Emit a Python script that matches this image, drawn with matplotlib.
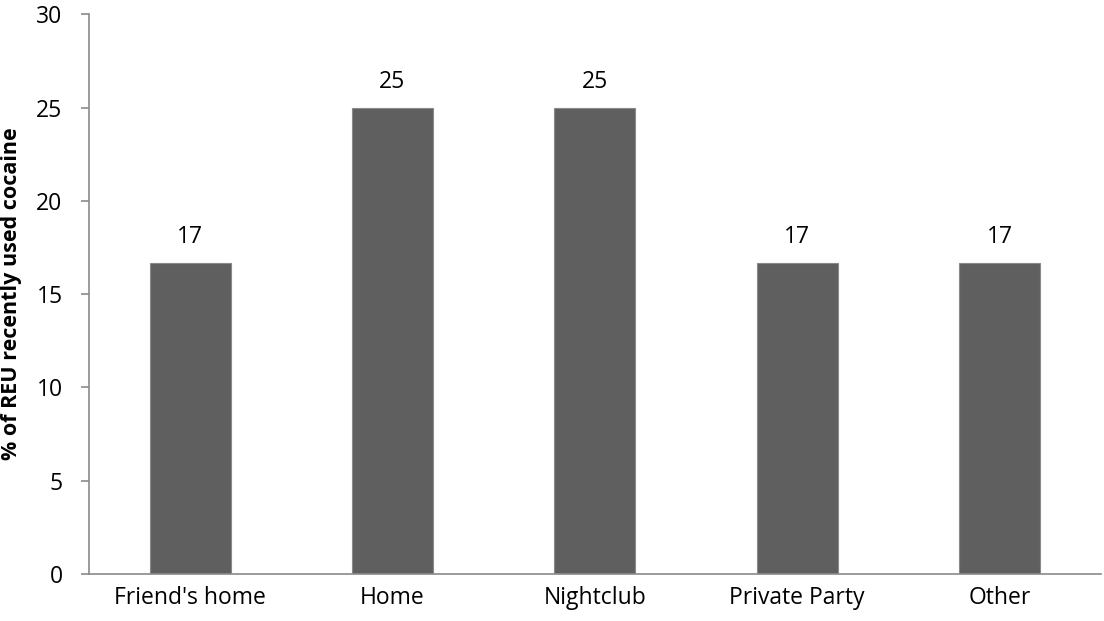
import matplotlib
matplotlib.use('Agg')
import matplotlib.pyplot as plt
import numpy as np

categories = ["Friend's home", "Home", "Nightclub", "Private Party", "Other"]
values = [16.67, 25.0, 25.0, 16.67, 16.67]
labels = ["17", "25", "25", "17", "17"]

plt.rcParams['font.family'] = ['Open Sans', 'DejaVu Sans']

fig = plt.figure(figsize=(11.04, 6.21), dpi=100)
ax = fig.add_axes([0.0806, 0.0757, 0.9164, 0.9013])

x = np.arange(len(categories))
bars = ax.bar(x, values, width=0.40, color='#5f5f5f', edgecolor='#8a8a8a', linewidth=0.8)
for b, lab in zip(bars, labels):
    ax.text(b.get_x() + b.get_width() / 2, b.get_height() + 0.75, lab,
            ha='center', va='bottom', fontsize=16.5)

ax.set_xlim(-0.5, len(categories) - 0.5)
ax.set_ylim(0, 30)
ax.set_yticks(range(0, 31, 5))
ax.set_xticks(x)
ax.set_xticklabels(categories)
ax.tick_params(axis='y', labelsize=16.5, length=6, color='#8a8a8a', width=1.2, pad=13)
ax.tick_params(axis='x', labelsize=16.5, length=0, pad=9)
for s in ['top', 'right']:
    ax.spines[s].set_visible(False)
for s in ['left', 'bottom']:
    ax.spines[s].set_color('#8a8a8a')
    ax.spines[s].set_linewidth(1.2)
ax.set_ylabel('% of REU recently used cocaine', fontsize=15.5, fontweight='bold')
ax.yaxis.set_label_coords(-0.066, 0.5)

fig.savefig('out.png', dpi=100)
